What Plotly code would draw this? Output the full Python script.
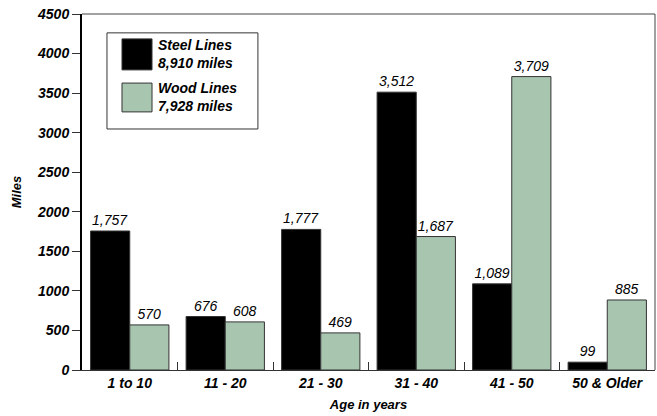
import plotly.graph_objects as go

# Miles of transmission line by age bracket
age_groups = ["1 to 10", "11 - 20", "21 - 30", "31 - 40", "41 - 50", "50 & Older"]
steel_miles = [1757, 676, 1777, 3512, 1089, 99]
wood_miles = [570, 608, 469, 1687, 3709, 885]
y_ticks = [0, 500, 1000, 1500, 2000, 2500, 3000, 3500, 4000, 4500]

STEEL = "#000000"
WOOD = "#a8c5b0"
FONT = "Liberation Sans, Arial, sans-serif"
INK = "#000000"

fig = go.Figure()
for name, vals, col in [("Steel Lines", steel_miles, STEEL), ("Wood Lines", wood_miles, WOOD)]:
    fig.add_trace(go.Bar(
        x=age_groups, y=vals, name=name,
        marker=dict(color=col, line=dict(color="#333333", width=1)),
        text=vals, texttemplate="<i>%{y:,}</i>", textposition="outside",
        textfont=dict(family=FONT, size=14, color=INK),
        cliponaxis=False,
    ))

fig.update_layout(
    width=657, height=416,
    margin=dict(l=82, r=2, t=14, b=46),
    paper_bgcolor="white", plot_bgcolor="white",
    barmode="group", bargap=0.18, bargroupgap=0,
    showlegend=False,
    font=dict(family=FONT, color=INK),
)

fig.update_xaxes(
    showline=True, linecolor="#333333", linewidth=1,
    ticks="inside", tickson="boundaries", ticklen=8, tickcolor="#333333",
    tickfont=dict(family=FONT, size=14, color=INK, weight="bold", style="italic"),
    title=dict(text="<b><i>Age in years</i></b>", font=dict(family=FONT, size=13), standoff=10),
    showgrid=False,
)
fig.update_yaxes(
    range=[0, 4500], tickvals=y_ticks,
    showline=True, linecolor="black", linewidth=2,
    ticks="outside", ticklen=8, tickcolor="#333333", tickwidth=1,
    tickfont=dict(family=FONT, size=14, color=INK, weight="bold", style="italic"),
    title=dict(text="<b><i>Miles</i></b>", font=dict(family=FONT, size=13), standoff=12),
    showgrid=False, zeroline=False,
)

# thin frame along top and right of the plot area
fig.add_shape(type="line", xref="paper", yref="paper", x0=0, x1=1, y0=1, y1=1,
              line=dict(color="#444444", width=1))
fig.add_shape(type="line", xref="paper", yref="paper", x0=1, x1=1, y0=0, y1=1,
              line=dict(color="#444444", width=1))

# legend box with totals
fig.add_shape(type="rect", xref="paper", yref="paper", x0=0.0436, x1=0.307, y0=0.677, y1=0.947,
              line=dict(color="#333333", width=1), fillcolor="white")
fig.add_shape(type="rect", xref="paper", yref="paper", x0=0.0698, x1=0.1222, y0=0.843, y1=0.930,
              line=dict(color="#333333", width=1), fillcolor=STEEL)
fig.add_shape(type="rect", xref="paper", yref="paper", x0=0.0698, x1=0.1222, y0=0.725, y1=0.806,
              line=dict(color="#333333", width=1), fillcolor=WOOD)
legend_text = [
    (0.888, ["Steel Lines", f"{sum(steel_miles):,} miles"]),
    (0.766, ["Wood Lines", f"{sum(wood_miles):,} miles"]),
]
for yp, lines in legend_text:
    fig.add_annotation(xref="paper", yref="paper", x=0.129, y=yp,
                       text="<br>".join(f"<b><i>{s}</i></b>" for s in lines),
                       showarrow=False, xanchor="left", yanchor="middle", align="left",
                       font=dict(family=FONT, size=14, color=INK))

fig.write_html("out.html")
